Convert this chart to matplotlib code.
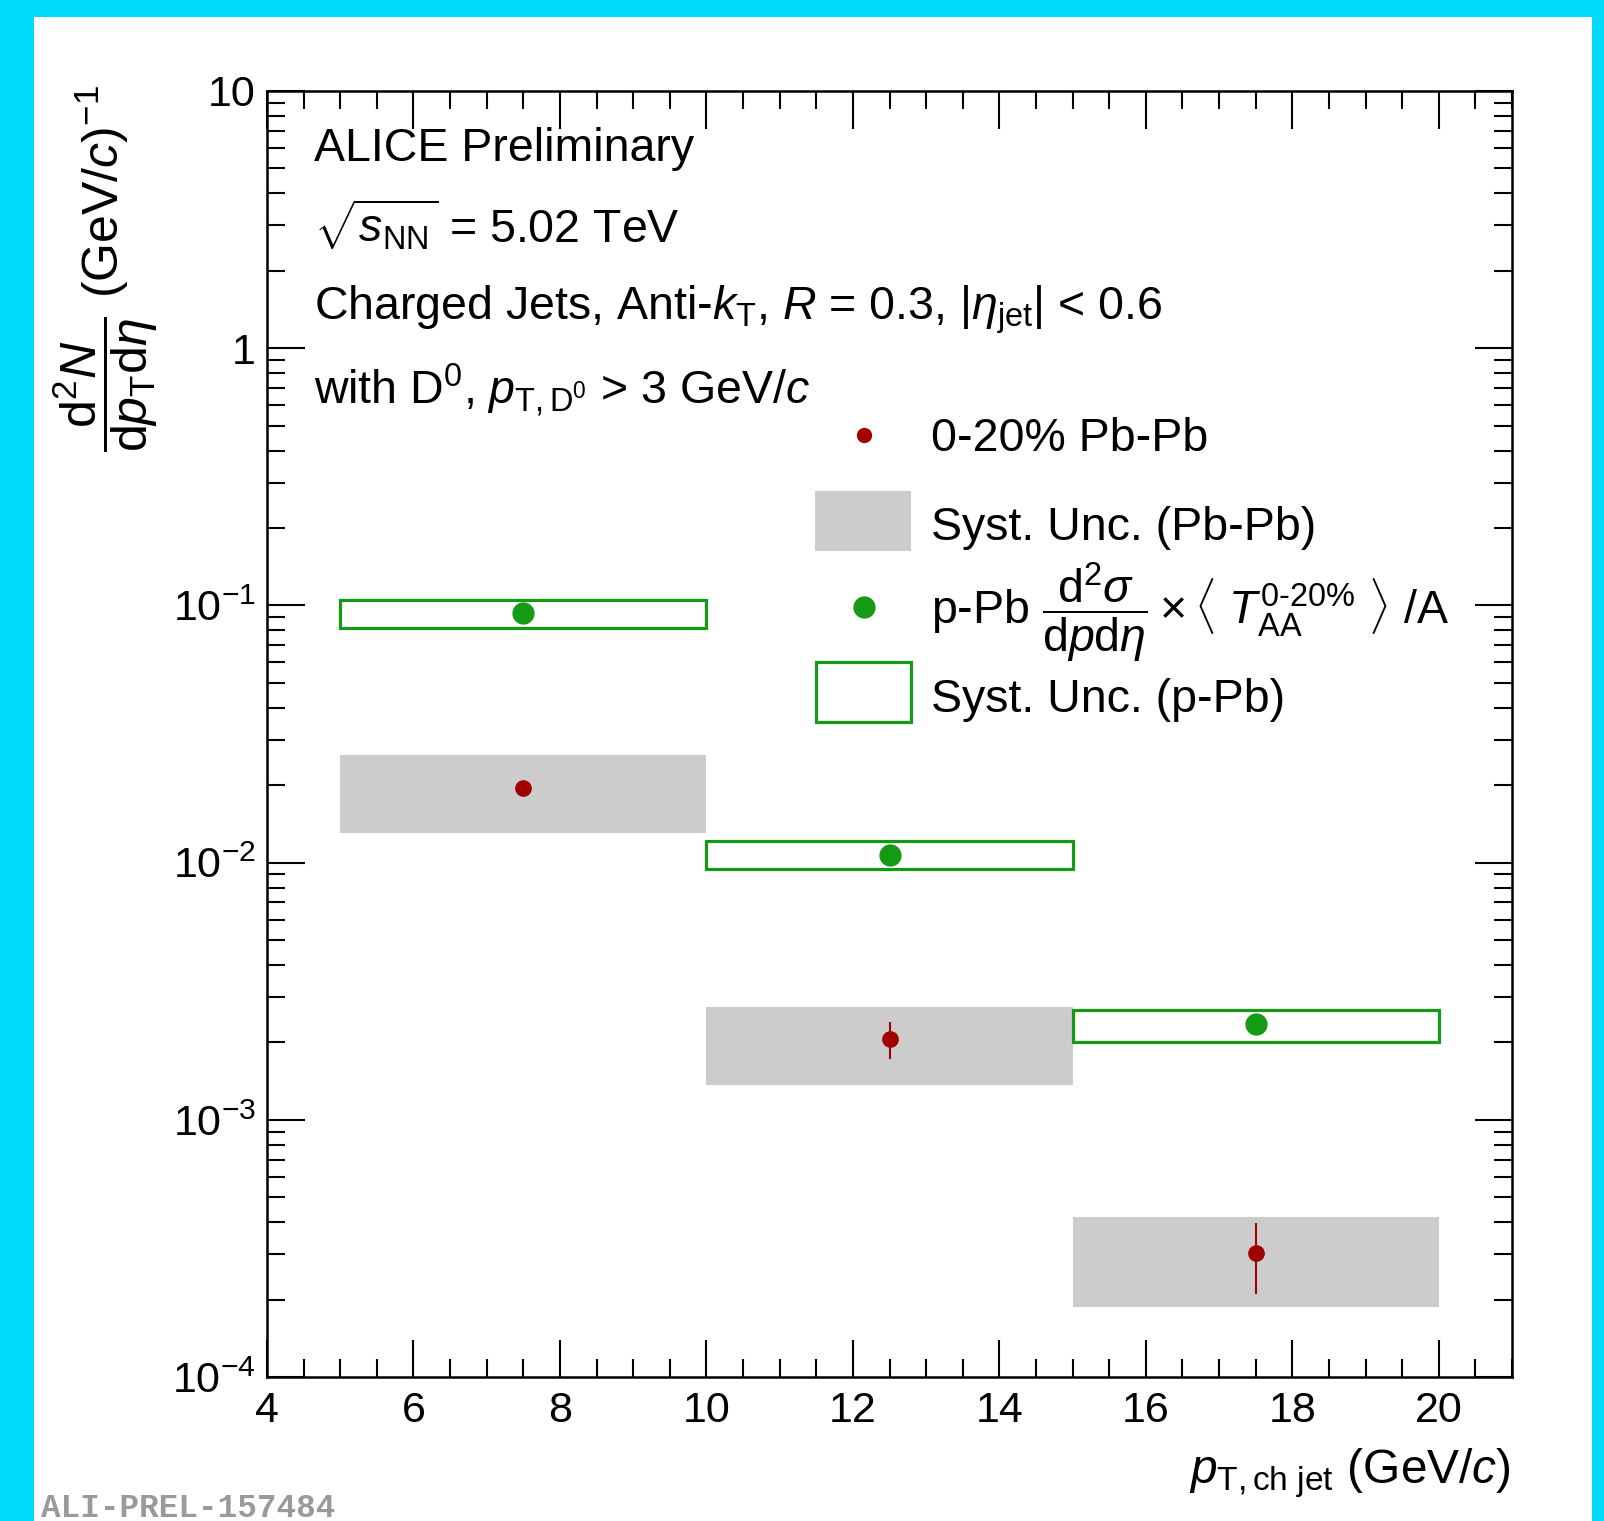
import matplotlib
matplotlib.use('Agg')
import matplotlib.pyplot as plt
import numpy as np
from matplotlib.patches import Rectangle
from matplotlib.lines import Line2D
from matplotlib.ticker import MultipleLocator, LogLocator, NullFormatter, FixedLocator, FixedFormatter

plt.rcParams['font.family'] = ['Liberation Sans', 'DejaVu Sans']
plt.rcParams['mathtext.fontset'] = 'custom'
plt.rcParams['mathtext.rm'] = 'Liberation Sans'
plt.rcParams['mathtext.it'] = 'Liberation Sans:italic'
plt.rcParams['mathtext.bf'] = 'Liberation Sans:bold'

# jet pT bins (GeV/c)
bin_lo = [5, 10, 15]
bin_hi = [10, 15, 20]
bin_center = [7.5, 12.5, 17.5]

# 0-20% Pb-Pb
pbpb_y = [0.0195, 0.00206, 0.000303]
pbpb_stat_lo = [0.0189, 0.00173, 0.00021]
pbpb_stat_hi = [0.0201, 0.0024, 0.000397]
pbpb_sys_lo = [0.0130, 0.00136, 0.000187]
pbpb_sys_hi = [0.0261, 0.00274, 0.00042]

# p-Pb scaled by <TAA>/A
ppb_y = [0.0933, 0.01074, 0.00236]
ppb_sys_lo = [0.082, 0.00944, 0.00201]
ppb_sys_hi = [0.105, 0.01208, 0.00268]

W, H = 1604, 1521
RED = '#A00000'
GREEN = '#159A15'
GREY = '#CCCCCC'


def fx(px):
    return px / W


def fy(py):
    return 1 - py / H


fig = plt.figure(figsize=(W / 100, H / 100), dpi=100, facecolor='#00DAFA')
fig.patches.append(Rectangle((fx(34), 0), fx(1592) - fx(34), fy(17), transform=fig.transFigure,
                             facecolor='white', edgecolor='none', zorder=-10))

ax = fig.add_axes([fx(267), fy(1377), fx(1512) - fx(267), fy(91) - fy(1377)])
ax.set_facecolor('none')
ax.set_xlim(4, 21)
ax.set_yscale('log')
ax.set_ylim(1e-4, 10)

lo = np.array(bin_lo)
hi = np.array(bin_hi)
widths = hi - lo
c = np.array(bin_center)

ax.bar(c, np.array(pbpb_sys_hi) - np.array(pbpb_sys_lo), bottom=pbpb_sys_lo, width=widths,
       color=GREY, edgecolor='none', zorder=1)
ax.bar(c, np.array(ppb_sys_hi) - np.array(ppb_sys_lo), bottom=ppb_sys_lo, width=widths,
       facecolor='none', edgecolor=GREEN, linewidth=2.3, zorder=2)

y = np.array(pbpb_y)
ax.errorbar(c, y, yerr=[y - np.array(pbpb_stat_lo), np.array(pbpb_stat_hi) - y], fmt='o',
            color=RED, markersize=11, elinewidth=1.5, capsize=0, zorder=4)
ax.plot(c, ppb_y, 'o', color=GREEN, markersize=15, zorder=4)

for s in ax.spines.values():
    s.set_linewidth(1.8)

ax.xaxis.set_major_locator(MultipleLocator(2))
ax.xaxis.set_minor_locator(MultipleLocator(0.5))
ax.yaxis.set_minor_locator(LogLocator(base=10, subs=np.arange(2, 10), numticks=20))
ax.yaxis.set_minor_formatter(NullFormatter())
ytick_vals = [1e-4, 1e-3, 1e-2, 1e-1, 1, 10]
ytick_labels = [r'$10^{-4}$', r'$10^{-3}$', r'$10^{-2}$', r'$10^{-1}$', '1', '10']
ax.yaxis.set_major_locator(FixedLocator(ytick_vals))
ax.yaxis.set_major_formatter(FixedFormatter(ytick_labels))

ax.tick_params(which='both', direction='in', top=True, right=True, width=1.5)
ax.tick_params(which='major', length=27, labelsize=31)
ax.tick_params(which='minor', length=13)
ax.tick_params(axis='x', pad=10)
ax.tick_params(axis='y', pad=8)

fs = 33.5
txt_x = fx(314)
fig.text(txt_x, fy(161), 'ALICE Preliminary', fontsize=fs, va='baseline')
fig.text(txt_x, fy(242), r'$\sqrt{s_{\mathrm{NN}}}$ = 5.02 TeV', fontsize=fs, va='baseline')
fig.text(txt_x, fy(319), r'Charged Jets, Anti-$k_{\mathrm{T}}$, $R$ = 0.3, $|\eta_{\mathrm{jet}}|$ < 0.6',
         fontsize=fs, va='baseline')
fig.text(txt_x, fy(404), r'with D$^{0}$, $p_{\mathrm{T,D^{0}}}$ > 3 GeV/$c$', fontsize=fs, va='baseline')

# legend
leg_x = fx(931)
fig.add_artist(Line2D([fx(864)], [fy(435)], marker='o', color=RED, markersize=10, linestyle='none',
                      transform=fig.transFigure, zorder=5))
fig.text(leg_x, fy(451), '0-20% Pb-Pb', fontsize=fs, va='baseline')
fig.patches.append(Rectangle((fx(815), fy(551)), fx(911) - fx(815), fy(491) - fy(551),
                             transform=fig.transFigure, facecolor=GREY, edgecolor='none', zorder=5))
fig.text(leg_x, fy(540), 'Syst. Unc. (Pb-Pb)', fontsize=fs, va='baseline')
fig.add_artist(Line2D([fx(864)], [fy(607)], marker='o', color=GREEN, markersize=15, linestyle='none',
                      transform=fig.transFigure, zorder=5))
fig.text(leg_x, fy(624),
         r'p-Pb $\dfrac{\mathrm{d}^{2}\sigma}{\mathrm{d}p\mathrm{d}\eta}\times\langle\ T_{\mathrm{AA}}^{\text{0-20%}}\ \rangle$ /A',
         fontsize=fs, va='baseline')
fig.patches.append(Rectangle((fx(816), fy(722)), fx(911) - fx(816), fy(662) - fy(722),
                             transform=fig.transFigure, facecolor='white', edgecolor=GREEN, linewidth=2.3,
                             zorder=5))
fig.text(leg_x, fy(712), 'Syst. Unc. (p-Pb)', fontsize=fs, va='baseline')

# axis titles
fig.text(fx(1511), fy(1483), r'$p_{\mathrm{T,ch\ jet}}$ (GeV/$c$)', fontsize=34.5, ha='right', va='baseline')
fig.text(fx(105), fy(85),
         r'$\dfrac{\mathrm{d}^{2}N}{\mathrm{d}p_{\mathrm{T}}\mathrm{d}\eta}$ (GeV/$c$)$^{-1}$',
         fontsize=36, rotation=90, ha='center', va='top')

fig.text(fx(41), fy(1517), 'ALI-PREL-157484', fontsize=23.5, family='Liberation Mono', weight='bold',
         color='#9A9A9A', va='baseline')

fig.savefig('out.png', dpi=100, facecolor=fig.get_facecolor())
